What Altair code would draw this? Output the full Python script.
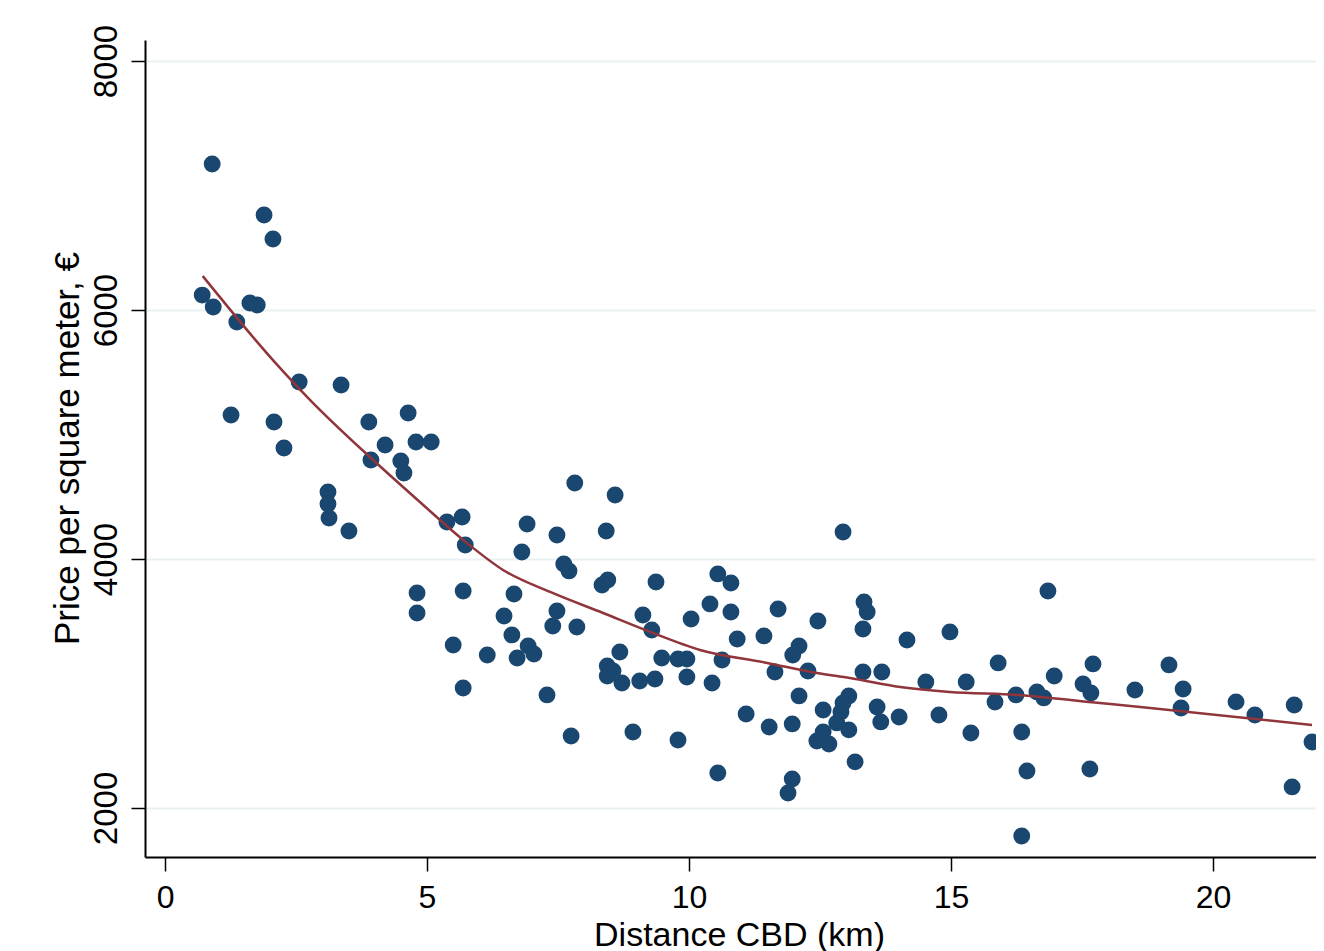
import altair as alt
import pandas as pd

# Scatter points: distance to CBD (km) and price per square meter (€)
dist = [0.90, 1.89, 2.06, 0.71, 0.92, 1.37, 1.62, 1.76, 2.56, 3.36, 1.26, 2.08, 2.27, 3.89,
        4.64, 4.20, 3.93, 4.50, 4.56, 4.79, 5.08, 3.11, 3.11, 3.13, 3.51, 5.38, 5.67, 5.73,
        7.82, 8.59, 6.91, 7.48, 8.42, 6.81, 7.61, 7.71, 8.34, 8.45, 4.81, 5.69, 6.66, 9.37,
        4.81, 6.47, 7.48, 7.40, 7.86, 9.12, 9.29, 10.04, 5.50, 6.15, 6.62, 6.93, 7.04, 6.72,
        8.68, 8.44, 8.55, 8.44, 8.72, 9.06, 9.35, 9.48, 9.79, 9.96, 9.96, 5.69, 7.29, 7.75,
        8.93, 9.79, 12.94, 10.55, 10.80, 10.40, 10.80, 11.70, 10.92, 11.43, 12.46, 12.10,
        13.34, 13.40, 13.32, 14.16, 14.98, 11.98, 10.63, 10.44, 11.64, 12.27, 13.32, 13.68,
        14.52, 12.10, 11.09, 11.53, 11.97, 12.56, 13.05, 12.94, 12.90, 12.82, 13.05, 12.56,
        12.44, 12.67, 13.59, 13.66, 14.01, 14.77, 10.55, 13.17, 11.97, 11.89, 16.85, 15.90,
        17.71, 16.97, 15.29, 17.52, 17.67, 16.24, 16.64, 16.77, 15.84, 18.51, 15.38, 16.35,
        16.45, 17.65, 16.35, 19.16, 19.43, 19.39, 20.44, 20.80, 21.55, 21.89, 21.51]
price = [7173, 6763, 6570, 6120, 6024, 5904, 6056, 6040, 5422, 5398, 5157, 5100, 4892, 5100,
         5173, 4916, 4795, 4787, 4691, 4940, 4940, 4538, 4442, 4329, 4225, 4297, 4337, 4112,
         4610, 4514, 4281, 4193, 4225, 4056, 3960, 3904, 3791, 3831, 3727, 3743, 3719, 3815,
         3566, 3542, 3582, 3462, 3454, 3550, 3430, 3518, 3309, 3229, 3390, 3301, 3237, 3205,
         3253, 3141, 3100, 3060, 3004, 3020, 3036, 3205, 3197, 3197, 3052, 2964, 2908, 2578,
         2610, 2546, 4217, 3880, 3807, 3639, 3574, 3598, 3357, 3382, 3502, 3301,
         3655, 3574, 3438, 3349, 3414, 3229, 3189, 3004, 3092, 3100, 3092, 3092,
         3012, 2900, 2755, 2650, 2675, 2787, 2900, 2843, 2771, 2683, 2627, 2610,
         2538, 2514, 2811, 2691, 2731, 2747, 2281, 2370, 2233, 2120, 3743, 3165,
         3157, 3060, 3012, 2996, 2924, 2908, 2932, 2884, 2851, 2948, 2602, 2610,
         2297, 2313, 1775, 3149, 2956, 2803, 2852, 2747, 2827, 2530, 2169]

# Smoothed fit line
fit_x = [0.72, 2.06, 2.77, 3.91, 4.81, 5.76, 6.45, 7.35, 8.36, 9.26, 10.21, 11.49, 12.44,
         13.07, 14.03, 14.98, 16.26, 17.84, 18.80, 21.89]
fit_y = [6273, 5598, 5277, 4819, 4478, 4129, 3912, 3735, 3566, 3414, 3269, 3165, 3084,
         3044, 2972, 2932, 2908, 2843, 2803, 2667]

x_ticks = [0, 5, 10, 15, 20]
y_ticks = [2000, 4000, 6000, 8000]

pts = pd.DataFrame({"dist": dist, "price": price})
fit = pd.DataFrame({"dist": fit_x, "price": fit_y})

FONT = "Liberation Sans"
xs = alt.Scale(domain=[-0.382, 21.966], nice=False, zero=False)
ys = alt.Scale(domain=[1606, 8169], nice=False, zero=False)

x_axis = alt.Axis(values=x_ticks, format="d", title="Distance CBD (km)", grid=False,
                  domainColor="black", domainWidth=2, tickColor="black", tickWidth=1.5,
                  tickSize=14, labelFont=FONT, labelFontSize=32, labelColor="black",
                  labelPadding=11, labelBaseline="top",
                  titleFont=FONT, titleFontSize=34, titleFontWeight="normal",
                  titleColor="black", titleBaseline="alphabetic", titleX=594, titleY=88,
                  titleAnchor="middle")
y_axis = alt.Axis(values=y_ticks, format="d", title="Price per square meter, €", grid=True,
                  gridColor="#eaf1f3", gridWidth=2,
                  domainColor="black", domainWidth=2, tickColor="black", tickWidth=1.5,
                  tickSize=14, labelFont=FONT, labelFontSize=33, labelColor="black",
                  labelAngle=270, labelAlign="center", labelBaseline="alphabetic",
                  labelPadding=15,
                  titleFont=FONT, titleFontSize=35, titleFontWeight="normal",
                  titleColor="black", titleAngle=270, titleAlign="center",
                  titleBaseline="alphabetic", titleX=-67, titleY=408)

points = alt.Chart(pts).mark_circle(size=285, opacity=1, color="#1a476f").encode(
    x=alt.X("dist:Q", scale=xs, axis=x_axis),
    y=alt.Y("price:Q", scale=ys, axis=y_axis),
)
line = alt.Chart(fit).mark_line(color="#90353b", strokeWidth=2.5, interpolate="monotone").encode(
    x=alt.X("dist:Q", scale=xs),
    y=alt.Y("price:Q", scale=ys),
)

chart = alt.layer(points, line).properties(
    width=1171, height=817,
    autosize=alt.AutoSizeParams(type="none"),
    padding={"left": 137, "top": 32, "right": 0, "bottom": 94},
    background="white",
).configure_view(strokeWidth=0)

chart.save("out.html", embed_options={"renderer": "svg", "actions": False})
